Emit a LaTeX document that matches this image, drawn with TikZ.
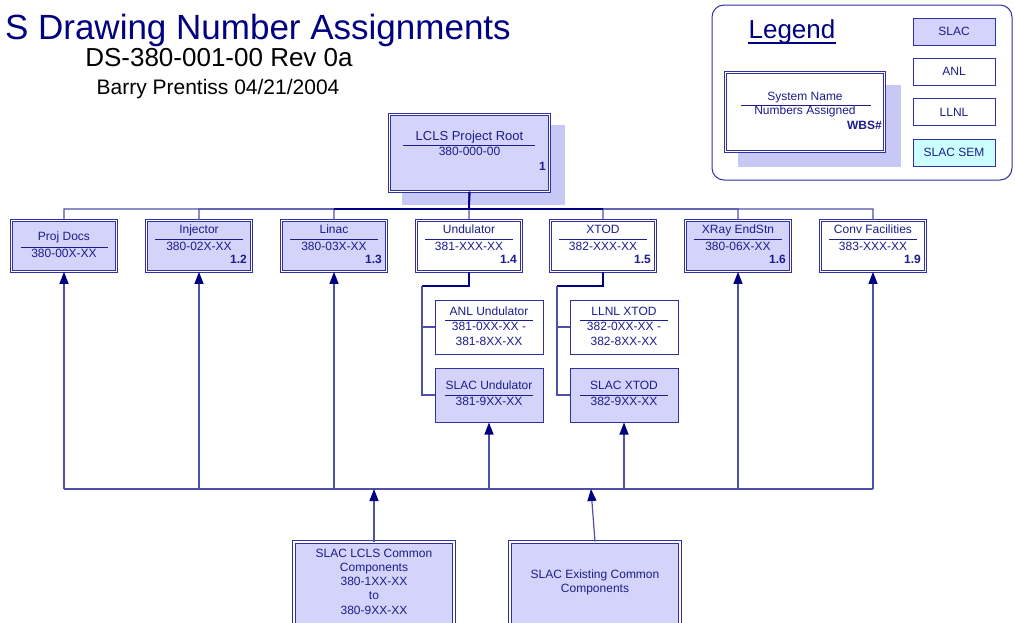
\documentclass[tikz,border=0pt]{standalone}
\usepackage{fontspec}
\setmainfont{Liberation Sans}
\usetikzlibrary{arrows.meta}
\definecolor{navy}{HTML}{000080}
\definecolor{ink}{HTML}{1C1C8C}
\definecolor{edgec}{HTML}{3030A0}
\definecolor{wirec}{HTML}{5050A8}
\definecolor{lav}{HTML}{D4D4FA}
\definecolor{shadowc}{HTML}{C8C8F6}
\definecolor{sem}{HTML}{CCFFFF}
\tikzset{
  dbox/.style={draw=edgec, line width=0.8pt, double=white, double distance=1.6pt, inner sep=0pt},
  sbox/.style={draw=edgec, line width=1pt, inner sep=0pt},
  ntext/.style={font=\fontsize{12}{14}\selectfont, text=ink, inner sep=0pt, anchor=mid},
  wbstext/.style={font=\fontsize{12}{14}\selectfont\bfseries, text=ink, inner sep=0pt, anchor=mid east},
  rulel/.style={draw=ink, line width=1pt},
  wire/.style={draw=wirec, line width=1.2pt},
  heavy/.style={draw=navy, line width=2pt},
  arr/.style={draw=wirec, line width=1.2pt, -{Triangle[width=9pt,length=12pt,color=navy]}},
}
% name, x centre, y top, fill, title, number, wbs
\newcommand\wbsbox[7]{%
  \node[dbox, fill=#4, minimum width=105pt, minimum height=51pt] (#1) at (#2,{#3+27}) {};
  \node[ntext] (#1-t) at (#2,{#3+12}) {#5};
  \draw[rulel] ({#2-44},{#3+20}) -- ({#2+44},{#3+20});
  \node[ntext] (#1-n) at (#2,{#3+29}) {#6};
  \node[wbstext] (#1-w) at ({#2+48},{#3+42}) {#7};
}
\begin{document}
\begin{tikzpicture}[x=1pt,y=-1pt]
\useasboundingbox (0,0) rectangle (1015,622);

% titles
\node[font=\fontsize{35}{40}\selectfont, text=navy, anchor=mid east, inner sep=0pt] (title) at (511,37) {S Drawing Number Assignments};
\node[font=\fontsize{26}{30}\selectfont, anchor=mid, inner sep=0pt] (sub) at (219,64) {DS-380-001-00 Rev 0a};
\node[font=\fontsize{21}{24}\selectfont, anchor=mid, inner sep=0pt] (author) at (218,92) {Barry Prentiss 04/21/2004};

% legend
\node[draw=edgec, line width=1pt, rounded corners=12pt, minimum width=300pt, minimum height=175pt, inner sep=0pt] (legend) at (862,92.5) {};
\node[font=\fontsize{26}{30}\selectfont, text=navy, anchor=mid, inner sep=0pt] (legt) at (792,36) {Legend};
\draw[navy, line width=1.4pt] (legt.south west |- 0,43) -- (legt.south east |- 0,43);
\node[sbox, fill=lav, minimum width=82pt, minimum height=27pt, font=\fontsize{12}{14}\selectfont, text=ink] (lslac) at (954,31.5) {SLAC};
\node[sbox, fill=white, minimum width=82pt, minimum height=27pt, font=\fontsize{12}{14}\selectfont, text=ink] (lanl) at (954,71.5) {ANL};
\node[sbox, fill=white, minimum width=82pt, minimum height=27pt, font=\fontsize{12}{14}\selectfont, text=ink] (lllnl) at (954,112) {LLNL};
\node[sbox, fill=sem, minimum width=82pt, minimum height=27pt, font=\fontsize{12}{14}\selectfont, text=ink] (lsem) at (954,152.5) {SLAC SEM};

\fill[shadowc] (738,85) rectangle (901,167);
\node[dbox, fill=white, minimum width=159pt, minimum height=79pt] (samp) at (805,112) {};
\node[ntext] (samp-t) at (805,98) {System Name};
\draw[rulel] (741,105) -- (871,105);
\node[ntext] (samp-n) at (805,112) {Numbers Assigned};
\node[wbstext] (samp-w) at (882,127) {WBS\#};

% root
\fill[shadowc] (402,125) rectangle (565,205);
\node[dbox, fill=lav, minimum width=160pt, minimum height=77pt] (root) at (469.5,153) {};
\node[ntext, font=\fontsize{13}{15}\selectfont] (root-t) at (469.5,138) {LCLS Project Root};
\draw[rulel] (403,145) -- (535,145);
\node[ntext] (root-n) at (469.5,153) {380-000-00};
\node[wbstext] (root-w) at (546,168) {1};

% level 2
\node[dbox, fill=lav, minimum width=105pt, minimum height=51pt] (pd) at (64,246) {};
\node[ntext] (pd-t) at (64,238) {Proj Docs};
\draw[rulel] (21,247) -- (108,247);
\node[ntext] (pd-n) at (64,255) {380-00X-XX};
\wbsbox{inj}{199}{219}{lav}{Injector}{380-02X-XX}{1.2}
\wbsbox{lin}{334}{219}{lav}{Linac}{380-03X-XX}{1.3}
\wbsbox{und}{469}{219}{white}{Undulator}{381-XXX-XX}{1.4}
\wbsbox{xtod}{603}{219}{white}{XTOD}{382-XXX-XX}{1.5}
\wbsbox{xray}{738}{219}{lav}{XRay EndStn}{380-06X-XX}{1.6}
\wbsbox{conv}{873}{219}{white}{Conv Facilities}{383-XXX-XX}{1.9}

% top bus
\coordinate (bus) at (469,209);
\foreach \n in {pd,inj,lin,und,xtod,xray,conv}{
  \draw[wire] (root.south) -- (bus) -| (\n.north);
}
\coordinate (busL) at (334,209);
\coordinate (busR) at (603,209);
\draw[heavy] (busL) -- (busR);
\draw[heavy] (root.south) -- (bus);

% sub boxes
\node[sbox, fill=white, minimum width=108pt, minimum height=54pt] (aund) at (489,327) {};
\node[ntext] (aund-t) at (489,313) {ANL Undulator};
\draw[rulel] (445,320) -- (533,320);
\node[ntext] (aund-n1) at (489,328) {381-0XX-XX -};
\node[ntext] (aund-n2) at (489,343) {381-8XX-XX};

\node[sbox, fill=lav, minimum width=108pt, minimum height=54pt] (sund) at (489,395) {};
\node[ntext] (sund-t) at (489,387) {SLAC Undulator};
\draw[rulel] (445,395) -- (533,395);
\node[ntext] (sund-n) at (489,403) {381-9XX-XX};

\node[sbox, fill=white, minimum width=108pt, minimum height=54pt] (lxt) at (624,327) {};
\node[ntext] (lxt-t) at (624,313) {LLNL XTOD};
\draw[rulel] (580,320) -- (668,320);
\node[ntext] (lxt-n1) at (624,328) {382-0XX-XX -};
\node[ntext] (lxt-n2) at (624,343) {382-8XX-XX};

\node[sbox, fill=lav, minimum width=108pt, minimum height=54pt] (sxt) at (624,395) {};
\node[ntext] (sxt-t) at (624,387) {SLAC XTOD};
\draw[rulel] (580,395) -- (668,395);
\node[ntext] (sxt-n) at (624,403) {382-9XX-XX};

\coordinate (uk) at (422,286);
\draw[heavy] (und.south) |- (uk);
\draw[wire] (uk) |- (sund.west);
\draw[wire] (uk |- aund.west) -- (aund.west);
\coordinate (xk) at (557,286);
\draw[heavy] (xtod.south) |- (xk);
\draw[wire] (xk) |- (sxt.west);
\draw[wire] (xk |- lxt.west) -- (lxt.west);

% bottom boxes
\node[dbox, fill=lav, minimum width=160pt, minimum height=86pt] (common) at (374,585) {};
\node[ntext] (common-1) at (374,555) {SLAC LCLS Common};
\node[ntext] (common-2) at (374,569) {Components};
\node[ntext] (common-3) at (374,583) {380-1XX-XX};
\node[ntext] (common-4) at (374,597) {to};
\node[ntext] (common-5) at (374,612) {380-9XX-XX};

\node[dbox, fill=lav, minimum width=170pt, minimum height=86pt] (exist) at (595,585) {};
\node[ntext] (exist-1) at (595,576) {SLAC Existing Common};
\node[ntext] (exist-2) at (595,590) {Components};

% bottom bus
\coordinate (bb1) at (64,489);
\coordinate (bb7) at (873,489);
\draw[wire] (bb1) -- (bb7);
\foreach \n in {pd,inj,lin,xray,conv,sund,sxt}{
  \draw[arr] (\n |- bb1) -- (\n.south);
}
\draw[arr] (common.north) -- (common.north |- bb1);
\coordinate (exTip) at (591,489);
\draw[arr] (exist.north -| 595,0) -- (exTip);
\end{tikzpicture}
\end{document}
